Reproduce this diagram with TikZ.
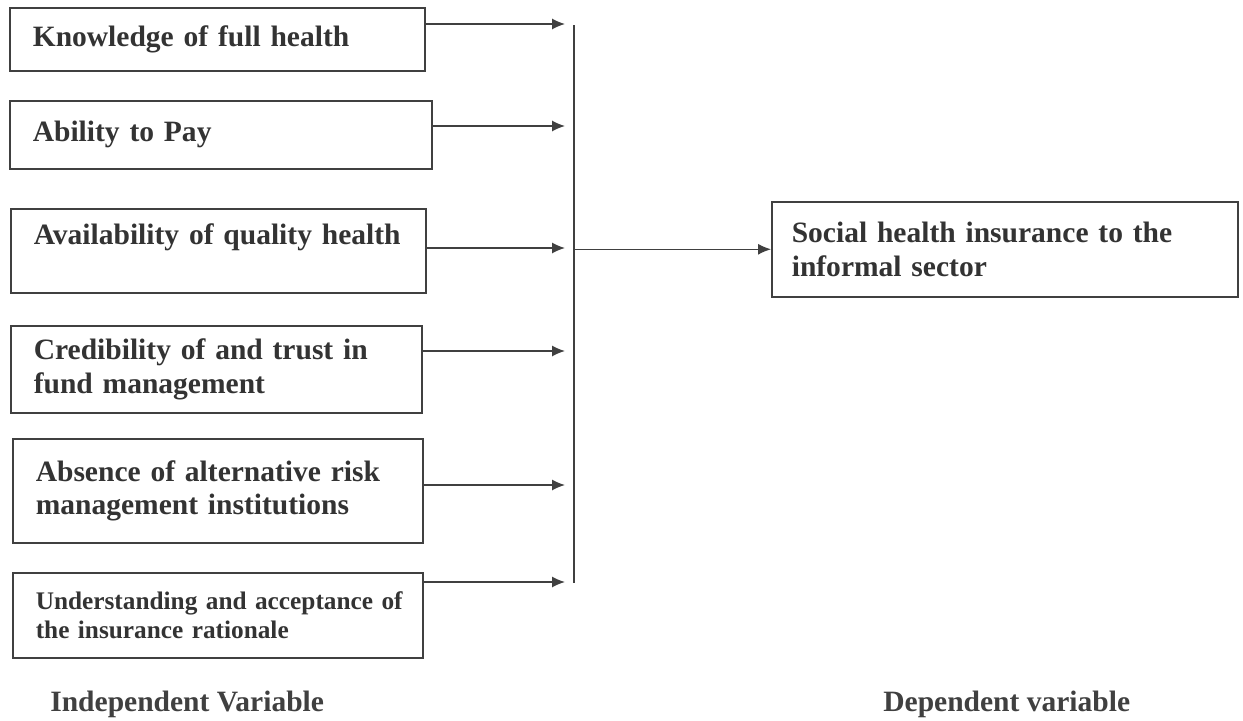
\documentclass[tikz,border=0pt]{standalone}
\usepackage{fontspec}
\setmainfont{Liberation Serif}
\usetikzlibrary{arrows.meta}

\tikzset{
  varbox/.style={draw=black!75,line width=0.9pt,anchor=north west,align=left,
    inner xsep=0.46cm,text=black!80,font=\fontsize{16.8}{19}\selectfont\bfseries},
  feed/.style={draw=black!75,line width=0.8pt,-{Latex[length=7.4pt,width=6.3pt]}},
  caption/.style={anchor=base west,inner sep=0pt,text=black!75,
    font=\fontsize{16.8}{19}\selectfont\bfseries}
}

\begin{document}
\begin{tikzpicture}[x=0.02cm,y=-0.02cm]
      \useasboundingbox[fill=white] (0,0) rectangle (1243,720);

      % independent variables
      \node[varbox,minimum width=8.3cm,minimum height=1.26cm,text width=7.38cm] (know) at (9,7) {\mbox{Knowledge of full health}};
      \node[varbox,minimum width=8.44cm,minimum height=1.36cm,text width=7.52cm] (pay) at (9,100) {\mbox{Ability to Pay}};
      \node[varbox,minimum width=8.3cm,minimum height=1.68cm,text width=7.38cm] (avail) at (10,208) {\mbox{Availability of quality health}\\\mbox{}};
      \node[varbox,minimum width=8.22cm,minimum height=1.74cm,text width=7.3cm] (trust) at (10,325) {\mbox{Credibility of and trust in}\\\mbox{fund management}};
      \node[varbox,minimum width=8.2cm,minimum height=2.08cm,text width=7.28cm] (absence) at (12,438) {\mbox{Absence of alternative risk}\\\mbox{management institutions}};
      \node[varbox,minimum width=8.2cm,minimum height=1.7cm,text width=7.28cm,
        font=\fontsize{14.4}{16}\selectfont\bfseries] (accept) at (12,572) {\mbox{Understanding and acceptance of}\\\mbox{the insurance rationale}};

      % dependent variable
      \node[varbox,inner xsep=0.4cm,minimum width=9.32cm,minimum height=1.9cm,text width=8.52cm] (shi) at (771,201) {\mbox{Social health insurance to the}\\\mbox{informal sector}};

      % arrow tips and collecting bar
      \coordinate (t1) at (565,24);
      \coordinate (t2) at (565,126);
      \coordinate (t3) at (565,248);
      \coordinate (t4) at (565,351);
      \coordinate (t5) at (565,485);
      \coordinate (t6) at (565,582);
      \coordinate (bartop) at (574,25);
      \coordinate (barbot) at (574,583);

      \draw[feed] (know.east |- t1) -- (t1);
      \draw[feed] (pay.east |- t2) -- (t2);
      \draw[feed] (avail.east |- t3) -- (t3);
      \draw[feed] (trust.east |- t4) -- (t4);
      \draw[feed] (absence.east |- t5) -- (t5);
      \draw[feed] (accept.east |- t6) -- (t6);

      \draw[black!75,line width=0.9pt] (bartop) -- (barbot);
      \draw[feed] (bartop |- shi.west) -- (shi.west);

      % captions
      \node[caption] (indep) at (50,711) {Independent Variable};
      \node[caption] (dep) at (883,711) {Dependent variable};
\end{tikzpicture}
\end{document}
